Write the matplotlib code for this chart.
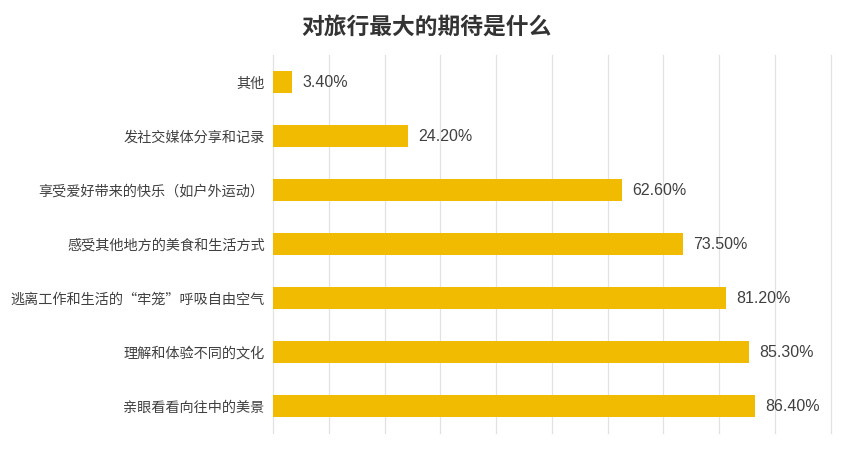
import matplotlib.pyplot as plt
from matplotlib.ticker import MultipleLocator

plt.rcParams['font.family'] = ['Noto Sans CJK SC', 'DejaVu Sans']

categories = ['亲眼看看向往中的美景', '理解和体验不同的文化', '逃离工作和生活的“牢笼”呼吸自由空气',
              '感受其他地方的美食和生活方式', '享受爱好带来的快乐（如户外运动）',
              '发社交媒体分享和记录', '其他']
values = [86.4, 85.3, 81.2, 73.5, 62.6, 24.2, 3.4]
value_labels = ['86.40%', '85.30%', '81.20%', '73.50%', '62.60%', '24.20%', '3.40%']

fig = plt.figure(figsize=(8.53, 4.55), dpi=100)
ax = fig.add_axes([0.32, 0.048, 0.654, 0.831])

ys = range(len(categories))
ax.barh(ys, values, height=0.41, color='#F0BB00', zorder=3)
for y, v, lab in zip(ys, values, value_labels):
    ax.text(v + 1.8, y, lab, va='center', ha='left', fontsize=11.5,
            color='#404040', family=['Liberation Sans', 'DejaVu Sans'])

ax.set_xlim(0, 100)
ax.set_ylim(-0.5, len(categories) - 0.5)
ax.xaxis.set_major_locator(MultipleLocator(10))
ax.grid(axis='x', color='#e2e2e2', linewidth=0.9, zorder=0)
for gl in ax.xaxis.get_gridlines():
    gl.set_clip_on(False)
ax.set_xticklabels([])
ax.tick_params(axis='x', length=0)
ax.tick_params(axis='y', length=0, pad=6, labelsize=10.2, labelcolor='#404040')
ax.set_yticks(list(ys))
ax.set_yticklabels(categories)
for s in ax.spines.values():
    s.set_visible(False)

fig.text(0.5, 0.94, '对旅行最大的期待是什么', ha='center', va='center',
         fontsize=16.4, fontweight='bold', color='#333333')

fig.savefig('out.png', dpi=100)
